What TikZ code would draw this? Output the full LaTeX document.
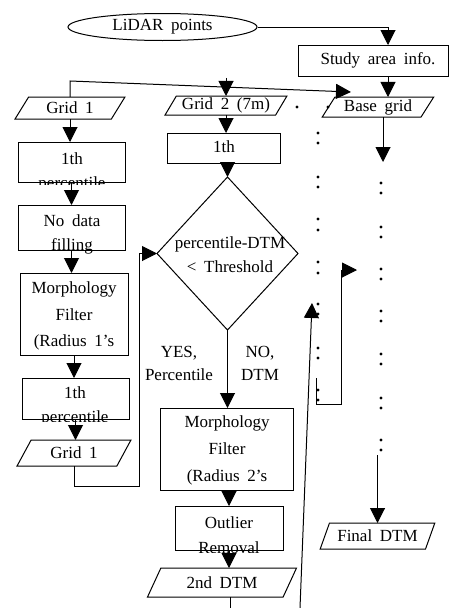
\documentclass[tikz,border=0pt]{standalone}
\usepackage{fontspec}
\setmainfont[WordSpace=1.8]{Liberation Serif}
\usetikzlibrary{arrows.meta,shapes.geometric}
\newcommand{\apos}{{\char"0027}}
\begin{document}
\begin{tikzpicture}[x=1pt,y=-1pt,
  line width=1pt,
  arr/.style={-{Triangle[length=15pt,width=15pt]}},
  box/.style={draw,rectangle,inner sep=0pt,outer sep=0pt},
  para/.style={draw,trapezium,trapezium left angle=57,trapezium right angle=123,trapezium stretches=true,inner sep=0pt,outer sep=0pt},
  txt/.style={inner sep=0pt,align=center,font=\fontsize{17}{24}\selectfont},
  txtw/.style={txt,font=\fontsize{17}{26.5}\selectfont},
  dotc/.style={fill=black}]
\useasboundingbox (0,0) rectangle (452,608);

% top
\node[draw,ellipse,minimum width=189pt,minimum height=27pt,txt] (lidar) at (162.5,27) {LiDAR points};
\node[box,minimum width=150pt,minimum height=31pt] (study) at (373,60.5) {};
\node[txt] (studyt) at (378,60.5) {Study area info.};
\node[para,minimum width=112pt,minimum height=20pt,txt] (base) at (378,107) {Base grid};
\node[para,minimum width=122pt,minimum height=19pt,txt] (grid2) at (226,105.5) {Grid 2 (7m)};
\node[para,minimum width=110pt,minimum height=22pt,txt] (grid1a) at (70,108) {Grid 1};

% left column
\node[box,minimum width=107pt,minimum height=40pt] (b1) at (71.5,162) {};
\node[box,minimum width=107pt,minimum height=45pt] (b2) at (71.5,227.5) {};
\node[box,minimum width=108pt,minimum height=82pt] (b3) at (74,314) {};
\node[box,minimum width=107pt,minimum height=41pt] (b4) at (75.5,398.5) {};
\node[para,minimum width=114pt,minimum height=26pt,txt] (grid1b) at (74,453) {Grid 1};

\begin{scope}
\clip ([yshift=-2pt]b1.south west) rectangle (b1.north east);
\node[txt] (b1t) at (72,172) {1th\\percentile};
\end{scope}
\begin{scope}
\clip ([yshift=-3pt]b2.south west) rectangle (b2.north east);
\node[txt] (b2t) at (72,234.5) {No data\\filling};
\end{scope}
\node[txtw] (b3t) at (74,316) {Morphology\\Filter\\(Radius 1\apos s};
\begin{scope}
\clip ([yshift=-2pt]b4.south west) rectangle (b4.north east);
\node[txt] (b4t) at (75,406) {1th\\percentile};
\end{scope}

% middle column
\node[box,minimum width=113pt,minimum height=30pt] (b5) at (223.5,148) {};
\begin{scope}
\clip (b5.south west) rectangle (b5.north east);
\node[txt] (b5t) at (224,160) {1th\\percentile};
\end{scope}
\node[draw,diamond,minimum width=141pt,minimum height=153pt,inner sep=0pt,outer sep=0pt] (dia) at (227.5,253.5) {};
\node[txt] (diat) at (230,255) {percentile-DTM\\< Threshold};
\node[txt,font=\fontsize{17}{23}\selectfont] (yes) at (179,363.5) {YES,\\Percentile};
\node[txt,font=\fontsize{17}{23}\selectfont] (no) at (260,363.5) {NO,\\DTM};
\node[box,minimum width=133pt,minimum height=82pt] (b6) at (226.5,449) {};
\node[txt,font=\fontsize{17}{27}\selectfont] (b6t) at (227,450) {Morphology\\Filter\\(Radius 2\apos s};
\node[box,minimum width=108pt,minimum height=44pt] (b7) at (229,528) {};
\begin{scope}
\clip ([yshift=-2pt]b7.south west) rectangle (b7.north east);
\node[txt,font=\fontsize{17}{25}\selectfont] (b7t) at (229,535.5) {Outlier\\Removal};
\end{scope}
\node[para,minimum width=150pt,minimum height=29pt,txt] (dtm2) at (222,582.5) {2nd DTM};

% right column
\node[para,minimum width=115pt,minimum height=26pt,txt] (fdtm) at (377.5,536) {Final DTM};

% connectors
\draw[arr] (lidar.east) -| ([xshift=15pt]study.north);
\draw[arr] ([xshift=15pt]study.south) -- ([xshift=15pt]study.south |- base.north);
\draw[arr] (grid1a.north) -- ++(0,-16) -- ([xshift=16pt,yshift=5pt]base.top left corner);
\draw[arr] (grid2.north) ++(0,-18) -- (grid2.north);

\draw[arr] (grid1a.south) -- (grid1a.south |- b1.north);
\draw[arr] (b1.south) -- (b1.south |- b2.north);
\draw[arr] (b2.south) -- (b2.south |- b3.north);
\draw[arr] (b3.south) -- (b3.south |- b4.north);
\draw[arr] (b4.south) -- (b4.south |- grid1b.north);
\draw[arr] (grid1b.south) -- ++(0,20) -- ++(65,0) |- (dia.west);

\draw[arr] (grid2.south) -- (grid2.south |- b5.north);
\draw[arr] (dia.north |- b5.south) -- (dia.north);
\draw[arr] (dia.south) -- (dia.south |- b6.north);
\draw[arr] (b7.north |- b6.south) -- (b7.north);
\draw[arr] (b7.south) -- (b7.south |- dtm2.north);
\draw ([xshift=8pt]dtm2.south) -- ++(0,11);

\draw[arr] ([xshift=5pt]base.south) -- ++(0,45) coordinate (rc1);
\draw[arr] (fdtm.north) ++(0,-68) -- (fdtm.north);

\coordinate (bk1) at (316,378);
\coordinate (bk2) at (357,270);
\draw[arr] (bk1) |- (341,404) |- (bk2);
\coordinate (lb) at (300,608);
\coordinate (lt) at (312,303);
\draw[arr] (lb) -- (lt);

% dots
\foreach \y in {183,193,227,237,269,279,311,321,354,364,398,408,440,450}
  \fill[dotc] (381,\y) circle (1.6pt);
\foreach \y in {133,143,177,187,219,230,262,273,304,314,348,358,390,400}
  \fill[dotc] (318,\y) circle (1.6pt);
\fill[dotc] (297,107) circle (1.6pt);
\fill[dotc] (328,107) circle (1.6pt);
\end{tikzpicture}
\end{document}
